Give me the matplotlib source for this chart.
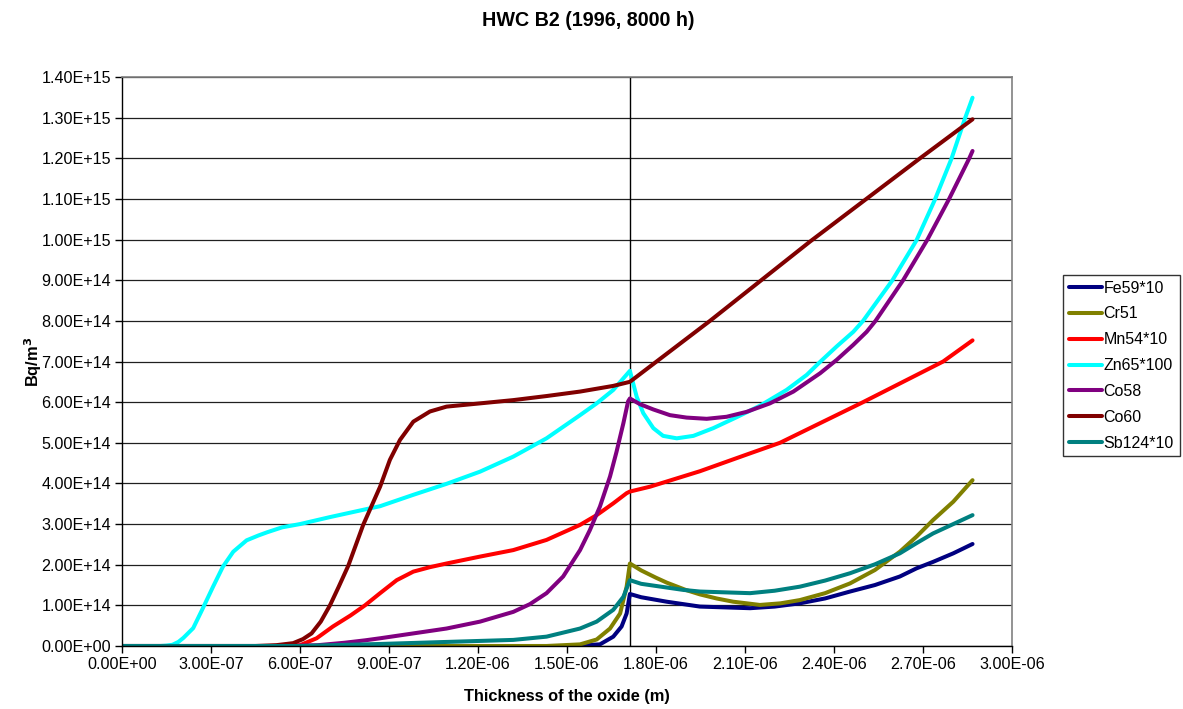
import matplotlib
matplotlib.use("Agg")
import matplotlib.pyplot as plt
from matplotlib.ticker import FuncFormatter, MultipleLocator

plt.rcParams['font.family'] = ['Liberation Sans', 'DejaVu Sans']

TITLE = "HWC B2 (1996, 8000 h)"
XLABEL = "Thickness of the oxide (m)"
YLABEL = "Bq/m$^\\mathbf{3}$"

# x in micrometres (1e-6 m), y in 1e14 Bq/m^3
fe59_x = [0, 1.50, 1.611, 1.656, 1.684, 1.701, 1.712, 1.75, 1.836, 1.948, 2.117, 2.20, 2.285, 2.37, 2.454, 2.538, 2.622, 2.678, 2.734, 2.802, 2.867]
fe59_y = [0, 0.0, 0.04, 0.23, 0.48, 0.80, 1.28, 1.20, 1.09, 0.97, 0.93, 0.97, 1.05, 1.17, 1.34, 1.50, 1.71, 1.91, 2.07, 2.28, 2.51]

cr51_x = [0, 1.431, 1.544, 1.60, 1.645, 1.679, 1.701, 1.712, 1.75, 1.80, 1.836, 1.90, 1.948, 2.004, 2.06, 2.117, 2.15, 2.22, 2.285, 2.37, 2.454, 2.538, 2.622, 2.678, 2.734, 2.802, 2.867]
cr51_y = [0, 0.0, 0.04, 0.16, 0.43, 0.80, 1.46, 2.03, 1.86, 1.68, 1.56, 1.38, 1.27, 1.17, 1.09, 1.04, 1.01, 1.05, 1.13, 1.30, 1.54, 1.87, 2.32, 2.69, 3.10, 3.55, 4.08]

mn54_x = [0, 0.50, 0.60, 0.656, 0.711, 0.77, 0.819, 0.87, 0.926, 0.982, 1.038, 1.094, 1.207, 1.319, 1.431, 1.544, 1.60, 1.656, 1.701, 1.712, 1.78, 1.948, 2.117, 2.218, 2.498, 2.768, 2.867]
mn54_y = [0, 0.0, 0.02, 0.19, 0.48, 0.75, 1.0, 1.30, 1.62, 1.83, 1.94, 2.03, 2.20, 2.36, 2.61, 2.98, 3.22, 3.51, 3.76, 3.80, 3.92, 4.30, 4.74, 5.0, 6.0, 7.0, 7.52]

zn65_x = [0, 0.13, 0.15, 0.17, 0.19, 0.207, 0.24, 0.27, 0.307, 0.34, 0.375, 0.42, 0.46, 0.49, 0.54, 0.60, 0.70, 0.825, 0.87, 0.982, 1.094, 1.207, 1.319, 1.431, 1.544, 1.60, 1.656, 1.712, 1.735, 1.757, 1.791, 1.824, 1.870, 1.926, 1.993, 2.072, 2.150, 2.240, 2.308, 2.353, 2.409, 2.465, 2.498, 2.597, 2.678, 2.74, 2.796, 2.841, 2.867]
zn65_y = [0, 0.0, 0.01, 0.03, 0.10, 0.20, 0.44, 0.89, 1.46, 1.95, 2.32, 2.6, 2.72, 2.8, 2.92, 3.0, 3.17, 3.37, 3.44, 3.72, 3.99, 4.29, 4.66, 5.11, 5.68, 5.97, 6.30, 6.77, 6.13, 5.73, 5.36, 5.17, 5.11, 5.17, 5.36, 5.63, 5.91, 6.30, 6.67, 6.99, 7.37, 7.73, 8.0, 9.0, 9.98, 10.98, 11.99, 12.97, 13.49]

co58_x = [0, 0.55, 0.66, 0.75, 0.82, 0.87, 0.982, 1.094, 1.207, 1.319, 1.375, 1.431, 1.487, 1.544, 1.577, 1.611, 1.645, 1.667, 1.690, 1.706, 1.712, 1.746, 1.791, 1.847, 1.903, 1.971, 2.038, 2.105, 2.184, 2.263, 2.353, 2.409, 2.465, 2.51, 2.54, 2.633, 2.715, 2.788, 2.856, 2.867]
co58_y = [0, 0.0, 0.02, 0.08, 0.14, 0.19, 0.31, 0.43, 0.60, 0.84, 1.03, 1.30, 1.71, 2.36, 2.85, 3.43, 4.17, 4.78, 5.48, 6.02, 6.09, 5.95, 5.82, 5.68, 5.62, 5.59, 5.64, 5.76, 5.97, 6.26, 6.71, 7.04, 7.41, 7.73, 8.0, 9.0, 10.0, 11.0, 12.0, 12.18]

co60_x = [0, 0.45, 0.52, 0.577, 0.61, 0.639, 0.67, 0.701, 0.73, 0.763, 0.782, 0.813, 0.87, 0.903, 0.937, 0.982, 1.038, 1.094, 1.207, 1.319, 1.431, 1.544, 1.656, 1.712, 1.982, 2.319, 2.69, 2.867]
co60_y = [0, 0.0, 0.02, 0.07, 0.17, 0.31, 0.60, 1.0, 1.45, 1.98, 2.36, 2.98, 3.92, 4.58, 5.07, 5.52, 5.77, 5.89, 5.97, 6.05, 6.15, 6.26, 6.40, 6.50, 8.0, 9.95, 12.0, 12.96]

sb124_x = [0, 0.60, 0.87, 1.094, 1.319, 1.431, 1.544, 1.60, 1.656, 1.690, 1.712, 1.75, 1.892, 1.948, 2.117, 2.20, 2.285, 2.37, 2.454, 2.538, 2.622, 2.678, 2.734, 2.802, 2.867]
sb124_y = [0, 0.0, 0.05, 0.10, 0.15, 0.23, 0.43, 0.60, 0.89, 1.21, 1.62, 1.53, 1.38, 1.34, 1.30, 1.36, 1.46, 1.61, 1.79, 2.01, 2.28, 2.53, 2.77, 3.0, 3.22]

interface_x = 1.712  # micrometres

series = [
    ("Fe59*10", fe59_x, fe59_y, "#000080"),
    ("Cr51", cr51_x, cr51_y, "#808000"),
    ("Mn54*10", mn54_x, mn54_y, "#FF0000"),
    ("Zn65*100", zn65_x, zn65_y, "#00FFFF"),
    ("Co58", co58_x, co58_y, "#800080"),
    ("Co60", co60_x, co60_y, "#800000"),
    ("Sb124*10", sb124_x, sb124_y, "#008080"),
]

XS = 1e-6
YS = 1e14

fig = plt.figure(figsize=(11.83, 7.09), dpi=100)
ax = fig.add_axes([122/1183, 1 - 646/709, (1012-122)/1183, (646-77)/709])

ax.set_xlim(0, 3.0e-6)
ax.set_ylim(0, 1.4e15)
ax.xaxis.set_major_locator(MultipleLocator(3e-7))
ax.yaxis.set_major_locator(MultipleLocator(1e14))
fmt = FuncFormatter(lambda v, p: f"{v:.2E}")
ax.xaxis.set_major_formatter(fmt)
ax.yaxis.set_major_formatter(fmt)
ax.tick_params(direction='out', length=5, width=1, labelsize=11.6, colors='black', pad=3)

ax.grid(axis='y', color='#202020', linewidth=0.9)
ax.set_axisbelow(True)
for s in ['top', 'right']:
    ax.spines[s].set_color('#808080')
    ax.spines[s].set_linewidth(1.2)
for s in ['left', 'bottom']:
    ax.spines[s].set_color('black')
    ax.spines[s].set_linewidth(1)

ax.axvline(interface_x * XS, color='black', linewidth=1.0, zorder=1.5)

handles = []
for name, xs, ys, col in series:
    h, = ax.plot([v * XS for v in xs], [v * YS for v in ys], color=col, linewidth=2.9,
                 solid_capstyle='round', solid_joinstyle='round', label=name, zorder=2)
    handles.append(h)

fig.text(588/1183, 1 - 20/709, TITLE, ha='center', va='center', fontsize=14.2, fontweight='bold')
ax.set_xlabel(XLABEL, fontsize=11.8, fontweight='bold')
ax.xaxis.set_label_coords(0.5, -(697 - 646) / 569, transform=ax.transAxes)
ax.xaxis.label.set_va('center')
ax.set_ylabel(YLABEL, fontsize=11.8, fontweight='bold')
ax.yaxis.set_label_coords((33 - 122) / 890, 0.5, transform=ax.transAxes)
ax.yaxis.label.set_va('center')

leg = fig.legend(handles=handles, loc='upper left', bbox_to_anchor=(1063/1183, 1 - 275/709),
                 fontsize=11.5, frameon=True, fancybox=False, edgecolor='black',
                 handlelength=2.1, handletextpad=0.1, labelspacing=0.68, borderpad=0.35,
                 borderaxespad=0)
leg.get_frame().set_linewidth(1.0)

fig.savefig("out.png", dpi=100)
